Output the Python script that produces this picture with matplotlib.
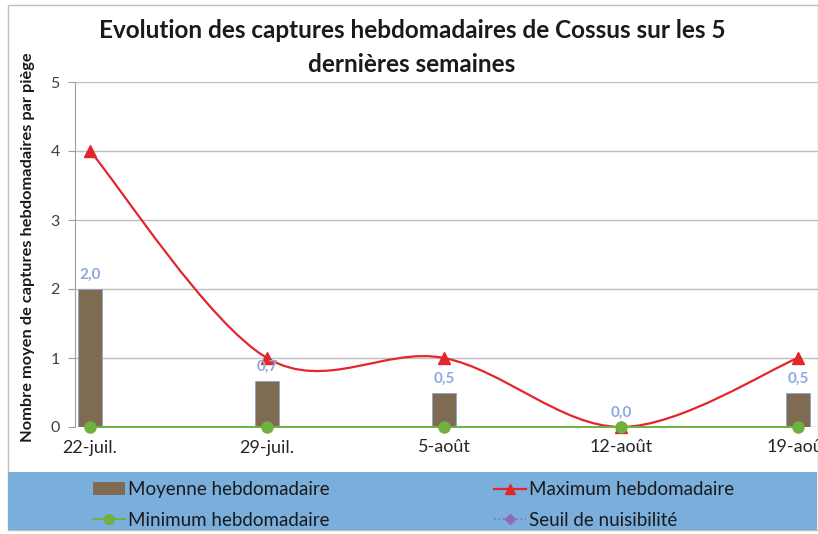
import matplotlib
matplotlib.use("Agg")
import matplotlib.pyplot as plt
import numpy as np
from matplotlib.path import Path
from matplotlib.patches import PathPatch, Rectangle
from matplotlib.lines import Line2D

categories = ["22-juil.", "29-juil.", "5-août", "12-août", "19-août"]
moyenne = [2.0, 0.667, 0.5, 0.0, 0.5]
maximum = [4, 1, 1, 0, 1]
minimum = [0, 0, 0, 0, 0]
seuil = [np.nan] * 5
labels_moy = ["2,0", "0,7", "0,5", "0,0", "0,5"]
yticks = [0, 1, 2, 3, 4, 5]

FONT = "Lato"
plt.rcParams['font.family'] = [FONT, 'DejaVu Sans']

W, H = 818, 534
fig = plt.figure(figsize=(W/100, H/100), dpi=100)

# chart border
fig.patches.append(Rectangle((8/W, 1-530/H), (W-8)/W, (530-5)/H, transform=fig.transFigure,
                             facecolor='white', edgecolor='#bfbfbf', lw=1, zorder=-10))
# legend band
fig.patches.append(Rectangle((8/W, 1-530/H), (817-8)/W, (530-472)/H, transform=fig.transFigure,
                             facecolor='#7aafdc', edgecolor='none', zorder=-5))

ax = fig.add_axes([75/W, 1-427/H, (W-75)/W, (427-82)/H])
ax.set_facecolor('none')
x = np.arange(len(categories))
ax.set_xlim(-0.085, (W-90)/177.0)
ax.set_ylim(0, 5)

ax.bar(x, moyenne, width=0.14, color='#7f6a52', edgecolor='#8aa6cf', lw=0.6, zorder=2)

# Excel-like smoothed line for maximum (Catmull-Rom -> cubic Bezier)
pts = np.column_stack([x, maximum]).astype(float)
verts = [tuple(pts[0])]
codes = [Path.MOVETO]
n = len(pts)
for i in range(n - 1):
    p0 = pts[max(i - 1, 0)]
    p1 = pts[i]
    p2 = pts[i + 1]
    p3 = pts[min(i + 2, n - 1)]
    c1 = p1 + (p2 - p0) / 6.0
    c2 = p2 - (p3 - p1) / 6.0
    verts += [tuple(c1), tuple(c2), tuple(p2)]
    codes += [Path.CURVE4] * 3
ax.add_patch(PathPatch(Path(verts, codes), facecolor='none', edgecolor='#e3262d', lw=1.6, zorder=3))
ax.plot(x, maximum, ls='none', marker='^', color='#e3262d', ms=8, zorder=4, clip_on=False)

ax.plot(x, minimum, color='#70b03f', lw=1.4, marker='o', ms=8, zorder=5, clip_on=False)
ax.plot(x, seuil, color='#8e6bb0', ls=':', marker='D', ms=5)

for xi, v, lab in zip(x, moyenne, labels_moy):
    ax.text(xi, v + 0.1, lab, ha='center', va='bottom', color='#8eaadc',
            fontsize=11, fontweight='bold', zorder=6)

ax.set_yticks(yticks)
ax.set_yticklabels([str(t) for t in yticks], fontsize=11.5, color='#404040')
ax.set_xticks(x)
ax.set_xticklabels(categories, fontsize=13, color='#262626')
ax.tick_params(axis='x', length=0, pad=9)
ax.tick_params(axis='y', length=5, color='#a0a0a0', pad=6)
ax.grid(axis='y', color='#bfbfbf', lw=1, zorder=0)
ax.set_axisbelow(True)
for s in ['top', 'right']:
    ax.spines[s].set_visible(False)
ax.spines['left'].set_color('#a0a0a0')
ax.spines['bottom'].set_visible(False)

fig.text(28/W, 1-247/H, "Nombre moyen de captures hebdomadaires par piège", rotation=90,
         ha='center', va='center', fontsize=11.8, fontweight='bold', color='#1a1a1a')

fig.text(412/W, 1-31/H, "Evolution des captures hebdomadaires de Cossus sur les 5",
         ha='center', va='center', fontsize=17.5, fontweight='bold', color='#1a1a1a')
fig.text(412/W, 1-65/H, "dernières semaines",
         ha='center', va='center', fontsize=17.5, fontweight='bold', color='#1a1a1a')

h_moy = Rectangle((0, 0), 1, 1, facecolor='#7f6a52', edgecolor='none')
h_min = Line2D([], [], color='#70b03f', lw=1.4, marker='o', ms=7)
h_max = Line2D([], [], color='#e3262d', lw=1.6, marker='^', ms=7)
h_seuil = Line2D([], [], color='#8e6bb0', lw=1.2, ls=':', marker='D', ms=5)

common = dict(frameon=False, fontsize=13.5, handlelength=1.7, handletextpad=0.15,
              labelspacing=0.7, borderaxespad=0, borderpad=0)
leg1 = fig.legend([h_moy, h_min], ["Moyenne hebdomadaire", "Minimum hebdomadaire"],
                  loc='center left', bbox_to_anchor=(93/W, 1-505/H), **common)
leg2 = fig.legend([h_max, h_seuil], ["Maximum hebdomadaire", "Seuil de nuisibilité"],
                  loc='center left', bbox_to_anchor=(494/W, 1-505/H), **common)
for leg in (leg1, leg2):
    for t in leg.get_texts():
        t.set_color('#1a1a1a')

fig.savefig("out.png", dpi=100)
